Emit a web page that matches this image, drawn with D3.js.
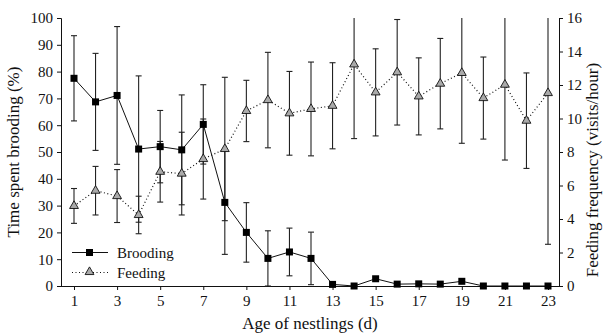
<!DOCTYPE html>
<html><head><meta charset="utf-8">
<script src="https://cdn.jsdelivr.net/npm/d3@7"></script>
<style>body{margin:0;background:#fff}svg{display:block}</style>
</head><body>
<script>
const days = [1,2,3,4,5,6,7,8,9,10,11,12,13,14,15,16,17,18,19,20,21,22,23];
const broodMean = [77.5,68.7,71.1,51.1,52.0,50.8,60.3,31.2,20.0,10.3,12.7,10.3,0.6,0,2.7,0.7,0.8,0.7,1.75,0,0,0,0];
const broodSD   = [15.9,18.1,25.7,27.3,13.5,20.5,14.8,19.4,11.1,10.3,8.9,9.8,0,0,0,0,0,0,0,0,0,0,0];
const feedMean  = [4.78,5.69,5.37,4.24,6.82,6.71,7.58,8.18,10.45,11.10,10.31,10.57,10.76,13.23,11.56,12.76,11.32,12.08,12.72,11.22,12.02,9.87,11.52];
const feedSD    = [1.04,1.45,1.58,1.12,1.81,2.47,2.39,4.28,1.83,2.85,2.5,2.8,2.57,4.43,2.6,3.15,2.3,2.7,4.2,2.45,4.5,2.85,9.03];
const leftTicks = [0,10,20,30,40,50,60,70,80,90,100];
const rightTicks = [0,2,4,6,8,10,12,14,16];
const xTicks = [1,3,5,7,9,11,13,15,17,19,21,23];

const FONT='Tinos';
const W=612,H=333;
const svg=d3.select("body").append("svg").attr("width",W).attr("height",H);
const x=d3.scaleLinear().domain([1,23]).range([74,548]);
const yL=d3.scaleLinear().domain([0,100]).range([286,18]);
const yR=d3.scaleLinear().domain([0,16]).range([286,18]);

function ft(sel,size){
  sel.style("font-family",FONT).style("font-size",size+"px").attr("fill","#111");
}

// axes
const axL=svg.append("g").attr("transform","translate(61,0)")
  .call(d3.axisLeft(yL).tickValues(leftTicks).tickSize(4).tickPadding(4));
const axR=svg.append("g").attr("transform","translate(559,0)")
  .call(d3.axisRight(yR).tickValues(rightTicks).tickSize(4).tickPadding(4));
const axB=svg.append("g").attr("transform","translate(0,286)")
  .call(d3.axisBottom(x).tickValues(xTicks).tickSize(4).tickPadding(5).tickSizeOuter(0));
[axL,axR,axB].forEach(a=>{a.attr("font-family",FONT).attr("font-size",15);
  a.selectAll("text").call(ft,15);
  a.selectAll("line,path").attr("stroke","#111");});
axB.select(".domain").attr("d","M61,0.5H559");

// Error bars
function errBars(mean,sd,ys,col){
  const lo=ys.domain()[0],hi=ys.domain()[1];
  const g=svg.append("g").attr("stroke",col).attr("stroke-width",1.1);
  days.forEach((d,i)=>{
    if(sd[i]<=0) return;
    const top=mean[i]+sd[i], bot=Math.max(lo,mean[i]-sd[i]);
    const tc=Math.min(hi,top);
    const xx=x(d);
    g.append("line").attr("x1",xx).attr("x2",xx).attr("y1",ys(tc)).attr("y2",ys(bot));
    if(top<=hi) g.append("line").attr("x1",xx-3).attr("x2",xx+3).attr("y1",ys(top)).attr("y2",ys(top));
    g.append("line").attr("x1",xx-3).attr("x2",xx+3).attr("y1",ys(bot)).attr("y2",ys(bot));
  });
}
errBars(feedMean,feedSD,yR,"#222");
errBars(broodMean,broodSD,yL,"#222");

// Feeding line
const lineF=d3.line().x((d,i)=>x(days[i])).y(d=>yR(d));
svg.append("path").datum(feedMean).attr("d",lineF).attr("fill","none")
  .attr("stroke","#111").attr("stroke-width",1.2).attr("stroke-dasharray","1,2.5");
const tri=d3.symbol().type(d3.symbolTriangle).size(34);
svg.append("g").selectAll("path").data(feedMean).join("path")
  .attr("d",tri).attr("transform",(d,i)=>`translate(${x(days[i])},${yR(d)})`)
  .attr("fill","#aaa").attr("stroke","#111").attr("stroke-width",0.9);

// Brooding line
const lineB=d3.line().x((d,i)=>x(days[i])).y(d=>yL(d));
svg.append("path").datum(broodMean).attr("d",lineB).attr("fill","none")
  .attr("stroke","#111").attr("stroke-width",1);
svg.append("g").selectAll("rect").data(broodMean).join("rect")
  .attr("x",(d,i)=>x(days[i])-3.5).attr("y",d=>yL(d)-3.5).attr("width",7).attr("height",7)
  .attr("fill","#000");

// Legend
const lg=svg.append("g");
lg.append("line").attr("x1",72).attr("x2",108).attr("y1",252.5).attr("y2",252.5).attr("stroke","#111");
lg.append("rect").attr("x",86).attr("y",249).attr("width",7).attr("height",7).attr("fill","#000");
lg.append("text").attr("x",117).attr("y",257.5).call(ft,15).text("Brooding");
lg.append("line").attr("x1",72).attr("x2",108).attr("y1",272.5).attr("y2",272.5).attr("stroke","#111")
  .attr("stroke-width",1.2).attr("stroke-dasharray","1,2.5");
lg.append("path").attr("d",tri).attr("transform","translate(89.5,272)").attr("fill","#aaa").attr("stroke","#111").attr("stroke-width",0.9);
lg.append("text").attr("x",117).attr("y",277.5).call(ft,15).text("Feeding");

// Titles
svg.append("text").attr("x",310).attr("y",329).attr("text-anchor","middle").call(ft,17).text("Age of nestlings (d)");
svg.append("text").attr("transform","translate(19,152) rotate(-90)").attr("text-anchor","middle").call(ft,17).text("Time spent brooding (%)");
svg.append("text").attr("transform","translate(598,170) rotate(-90)").attr("text-anchor","middle").call(ft,17).text("Feeding frequency (visits/hour)");
</script>
</body></html>
